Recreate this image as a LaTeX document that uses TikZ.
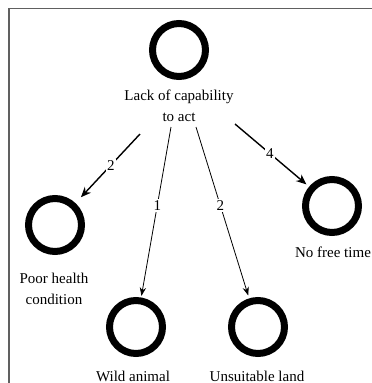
\documentclass[tikz,border=0pt]{standalone}
\usepackage{fontspec}
\setmainfont{Liberation Serif}
\usetikzlibrary{arrows.meta,positioning}
\newcommand{\capfont}{\fontsize{15}{20.5}\selectfont}
\tikzset{
  ring/.style    = {circle, draw, line width=7pt, minimum size=53pt, inner sep=0pt},
  caption/.style = {font=\capfont, align=center, inner sep=0pt, anchor=base},
  link/.style    = {-{Stealth[length=3mm, width=2.2mm]}, line width=0.8pt},
  blink/.style   = {-{Stealth[length=3.6mm, width=3mm]}, line width=1.4pt},
  wt/.style      = {fill=white, inner sep=1.5pt, font=\capfont},
  frame/.style   = {gray!75!black, line width=1.3pt},
}

\begin{document}
\begin{tikzpicture}[x=1pt, y=-1pt]
  \useasboundingbox (0,0) rectangle (372,383);
  \draw[frame] (9,383) -- (9,8.5) -- (372,8.5);

  % the rings
  \node[ring] (lack)   at (179,50)  {};
  \node[ring] (poor)   at (55,225)  {};
  \node[ring] (wild)   at (136,327) {};
  \node[ring] (unsuit) at (258,327) {};
  \node[ring] (nofree) at (332,206) {};

  % their captions (base = last line)
  \node[caption] (lackT)   at (179,121) {Lack of capability\\to act};
  \node[caption] (poorT)   at (54,304)  {Poor health\\condition};
  \node[caption] (wildT)   at (133,381) {Wild animal};
  \node[caption] (unsuitT) at (257,381) {Unsuitable land};
  \node[caption] (nofreeT) at (333,257) {No free time};

  % where the arrows leave the top caption
  \coordinate (s1) at (140,134);
  \coordinate (s2) at (171,127);
  \coordinate (s3) at (196,127);
  \coordinate (s4) at (235,124);

  \draw[blink, shorten >=8pt] (s1) -- node[wt, pos=0.45]{2} (poor);
  \draw[link, shorten >=1.5pt] (s2) -- node[wt, pos=0.46]{1} (wild);
  \draw[link, shorten >=3pt]   (s3) -- node[wt, pos=0.46]{2} (unsuit);
  \draw[blink, shorten >=3.5pt] (s4) -- node[wt, pos=0.47]{4} (nofree);
\end{tikzpicture}
\end{document}
